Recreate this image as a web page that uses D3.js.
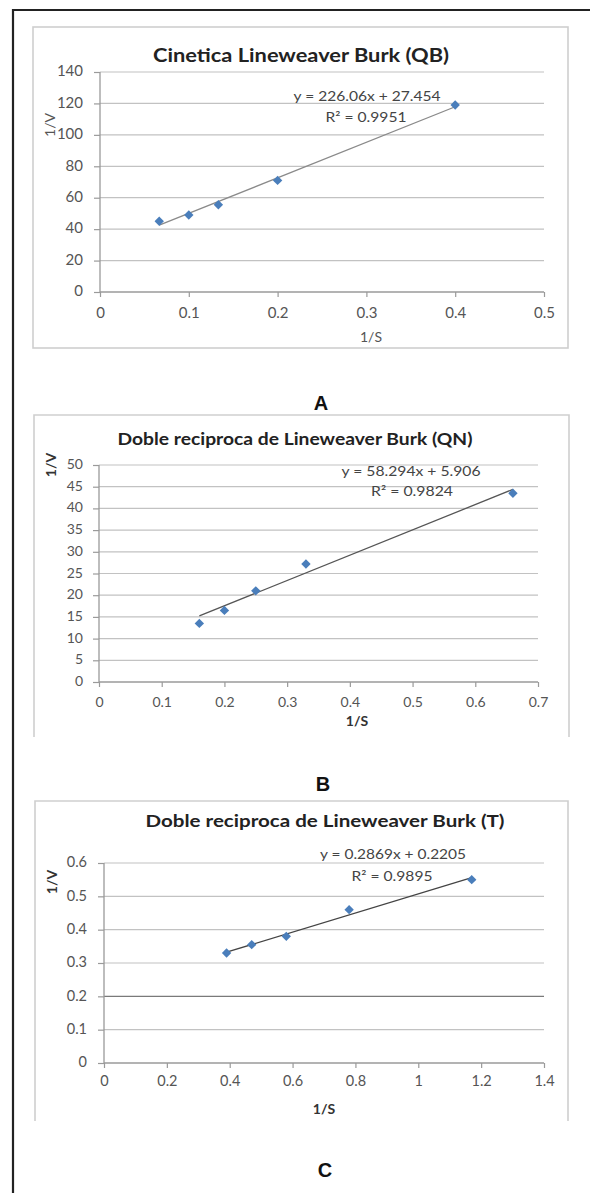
<!DOCTYPE html>
<html>
<head>
<meta charset="utf-8">
<script src="https://cdn.jsdelivr.net/npm/d3@7"></script>
<style>
  html, body { margin: 0; padding: 0; background: #fff; }
  svg { display: block; }
</style>
</head>
<body>
<svg id="fig" width="590" height="1193"></svg>
<script>
// ---- Data ----
const titleA = "Cinetica Lineweaver Burk (QB)";
const xA = [0.0667, 0.1, 0.1333, 0.2, 0.4];
const yA = [45, 49, 55.5, 71, 119];
const fitA = [226.06, 27.454];
const eqA = ["y = 226.06x + 27.454", "R² = 0.9951"];
const xTicksA = [0, 0.1, 0.2, 0.3, 0.4, 0.5];
const yTicksA = [0, 20, 40, 60, 80, 100, 120, 140];

const titleB = "Doble reciproca de Lineweaver Burk (QN)";
const xB = [0.16, 0.2, 0.25, 0.33, 0.66];
const yB = [13.5, 16.5, 21, 27.2, 43.5];
const fitB = [58.294, 5.906];
const eqB = ["y = 58.294x + 5.906", "R² = 0.9824"];
const xTicksB = [0, 0.1, 0.2, 0.3, 0.4, 0.5, 0.6, 0.7];
const yTicksB = [0, 5, 10, 15, 20, 25, 30, 35, 40, 45, 50];

const titleC = "Doble reciproca de Lineweaver Burk (T)";
const xC = [0.39, 0.47, 0.58, 0.78, 1.17];
const yC = [0.33, 0.355, 0.38, 0.46, 0.55];
const fitC = [0.2869, 0.2205];
const eqC = ["y = 0.2869x + 0.2205", "R² = 0.9895"];
const xTicksC = [0, 0.2, 0.4, 0.6, 0.8, 1, 1.2, 1.4];
const yTicksC = [0, 0.1, 0.2, 0.3, 0.4, 0.5, 0.6];

const panelLabels = ["A", "B", "C"];

// ---- Drawing ----
const svg = d3.select("#fig");
const FONT = "Lato, 'Open Sans', sans-serif";

// outer frame (left and top visible)
svg.append("path")
  .attr("d", "M13,1193 L13,10 L590,10")
  .attr("fill", "none").attr("stroke", "#222").attr("stroke-width", 2.2);

function chart(cfg) {
  const g = svg.append("g");
  const b = cfg.box;
  if (cfg.closed) {
    g.append("rect").attr("x", b.x0).attr("y", b.y0)
      .attr("width", b.x1 - b.x0).attr("height", b.y1 - b.y0)
      .attr("fill", "none").attr("stroke", "#cfcfcf").attr("stroke-width", 1.6);
  } else {
    g.append("path")
      .attr("d", `M${b.x0},${b.y1} L${b.x0},${b.y0} L${b.x1},${b.y0} L${b.x1},${b.y1}`)
      .attr("fill", "none").attr("stroke", "#cfcfcf").attr("stroke-width", 1.6);
  }
  const x = d3.scaleLinear().domain(cfg.xDom).range([cfg.p.x0, cfg.p.x1]);
  const y = d3.scaleLinear().domain(cfg.yDom).range([cfg.p.y1, cfg.p.y0]);

  // gridlines
  g.append("g").selectAll("line").data(cfg.yTicks.slice(1)).join("line")
    .attr("x1", x(cfg.xDom[0])).attr("x2", x(cfg.xDom[1]))
    .attr("y1", d => y(d)).attr("y2", d => y(d))
    .attr("stroke", d => (cfg.darkGrid === d ? "#7a7a7a" : "#c2c2c2"))
    .attr("stroke-width", d => (cfg.darkGrid === d ? 1.4 : 1.2));

  // axes
  const xAxis = d3.axisBottom(x).tickValues(cfg.xTicks).tickSize(5).tickFormat(d => cfg.fmtX(d));
  const yAxis = d3.axisLeft(y).tickValues(cfg.yTicks).tickSize(6).tickFormat(d => cfg.fmtY(d));
  const gx = g.append("g").attr("transform", `translate(0,${cfg.p.y1})`).call(xAxis);
  const gy = g.append("g").attr("transform", `translate(${cfg.p.x0},0)`).call(yAxis);
  [gx, gy].forEach(a => {
    a.select(".domain").attr("stroke", "#9a9a9a").attr("stroke-width", 1.3);
    a.selectAll(".tick line").attr("stroke", "#9a9a9a").attr("stroke-width", 1.2);
    a.selectAll("text").attr("fill", "#555").attr("font-family", FONT)
      .attr("font-size", cfg.tickFs);
  });
  gx.select(".domain").attr("d", `M${cfg.p.x0},0H${cfg.p.x1}`);
  gy.select(".domain").attr("d", `M0,${cfg.p.y1}V${cfg.p.y0}`);
  gx.selectAll("text").attr("dy", null).attr("y", cfg.xLabOff).attr("dominant-baseline", "middle");
  gy.selectAll("text").attr("x", -cfg.yLabOff).attr("dy", null).attr("dominant-baseline", "middle");

  // trendline
  const xs = d3.extent(cfg.xs);
  g.append("line")
    .attr("x1", x(xs[0])).attr("y1", y(cfg.fit[0] * xs[0] + cfg.fit[1]))
    .attr("x2", x(xs[1])).attr("y2", y(cfg.fit[0] * xs[1] + cfg.fit[1]))
    .attr("stroke", cfg.lineColor).attr("stroke-width", 1.3);

  // markers (diamonds)
  const sym = d3.symbol().type(d3.symbolSquare).size(44);
  g.append("g").selectAll("path").data(cfg.xs.map((v, i) => [v, cfg.ys[i]])).join("path")
    .attr("d", sym)
    .attr("transform", d => `translate(${x(d[0])},${y(d[1])}) rotate(45)`)
    .attr("fill", "#4a7ebb");

  // equation text
  [[cfg.eq1, cfg.eq[0]], [cfg.eq2, cfg.eq[1]]].forEach(([pos, txt]) => {
    g.append("text").attr("x", pos[0] - pos[2] / 2).attr("y", pos[1])
      .attr("dominant-baseline", "middle")
      .attr("textLength", pos[2]).attr("lengthAdjust", "spacingAndGlyphs")
      .attr("font-family", FONT).attr("font-size", cfg.eqFs).attr("fill", "#444")
      .text(txt);
  });

  // title
  g.append("text").attr("x", cfg.titlePos[0] - cfg.titleW / 2).attr("y", cfg.titlePos[1])
    .attr("dominant-baseline", "middle")
    .attr("textLength", cfg.titleW).attr("lengthAdjust", "spacingAndGlyphs")
    .attr("font-family", FONT).attr("font-weight", 700).attr("font-size", cfg.titleFs)
    .attr("fill", "#222").text(cfg.title);

  // axis titles
  g.append("text").attr("x", cfg.xt[0]).attr("y", cfg.xt[1])
    .attr("text-anchor", "middle").attr("dominant-baseline", "middle")
    .attr("font-family", FONT).attr("font-weight", cfg.axBold ? 700 : 400)
    .attr("font-size", cfg.axFs).attr("fill", cfg.axBold ? "#333" : "#555").text("1/S");
  g.append("text")
    .attr("transform", `translate(${cfg.yt[0]},${cfg.yt[1]}) rotate(-90)`)
    .attr("text-anchor", "middle").attr("dominant-baseline", "middle")
    .attr("font-family", FONT).attr("font-weight", cfg.axBold ? 700 : 400)
    .attr("font-size", cfg.axFs).attr("fill", cfg.axBold ? "#333" : "#555").text("1/V");

  // panel letter
  svg.append("text").attr("x", cfg.letter[0]).attr("y", cfg.letter[1])
    .attr("text-anchor", "middle").attr("dominant-baseline", "middle")
    .attr("font-family", "'Liberation Sans', Arial, sans-serif").attr("font-weight", 700)
    .attr("font-size", 20).attr("fill", "#111").text(cfg.label);
}

const fmt = d => (d === 0 ? "0" : String(+d.toFixed(2)));

chart({
  box: {x0: 33, y0: 27, x1: 568, y1: 348}, closed: true,
  p: {x0: 100, x1: 544, y0: 72, y1: 292},
  xDom: [0, 0.5], yDom: [0, 140], xTicks: xTicksA, yTicks: yTicksA,
  fmtX: fmt, fmtY: fmt, xs: xA, ys: yA, fit: fitA, eq: eqA,
  eq1: [367, 97, 147], eq2: [366, 118, 81], eqFs: 14,
  title: titleA, titlePos: [301, 57], titleFs: 18, titleW: 296,
  xt: [371, 338], yt: [51, 125], axBold: false, axFs: 14,
  tickFs: 15, xLabOff: 22, yLabOff: 17, lineColor: "#8a8a8a",
  letter: [321, 405], label: panelLabels[0]
});

chart({
  box: {x0: 34, y0: 415, x1: 569, y1: 737}, closed: false,
  p: {x0: 99, x1: 538, y0: 465, y1: 682},
  xDom: [0, 0.7], yDom: [0, 50], xTicks: xTicksB, yTicks: yTicksB,
  fmtX: fmt, fmtY: fmt, xs: xB, ys: yB, fit: fitB, eq: eqB,
  eq1: [411, 472, 139], eq2: [412, 492, 82], eqFs: 14,
  title: titleB, titlePos: [295, 441], titleFs: 17, titleW: 355,
  xt: [357, 722], yt: [52, 465], axBold: true, axFs: 14,
  tickFs: 14, xLabOff: 21, yLabOff: 16, lineColor: "#555",
  letter: [323, 786], label: panelLabels[1]
});

chart({
  box: {x0: 35, y0: 801, x1: 568, y1: 1121}, closed: false,
  p: {x0: 104, x1: 544, y0: 863, y1: 1063},
  xDom: [0, 1.4], yDom: [0, 0.6], xTicks: xTicksC, yTicks: yTicksC,
  fmtX: fmt, fmtY: fmt, xs: xC, ys: yC, fit: fitC, eq: eqC,
  eq1: [393, 855, 146], eq2: [392, 877, 81], eqFs: 14,
  title: titleC, titlePos: [325, 823], titleFs: 17, titleW: 359,
  xt: [324, 1110], yt: [53, 882], axBold: true, axFs: 14,
  tickFs: 14.5, xLabOff: 19, yLabOff: 17, lineColor: "#444", darkGrid: 0.2,
  letter: [325, 1172], label: panelLabels[2]
});
</script>
</body>
</html>
